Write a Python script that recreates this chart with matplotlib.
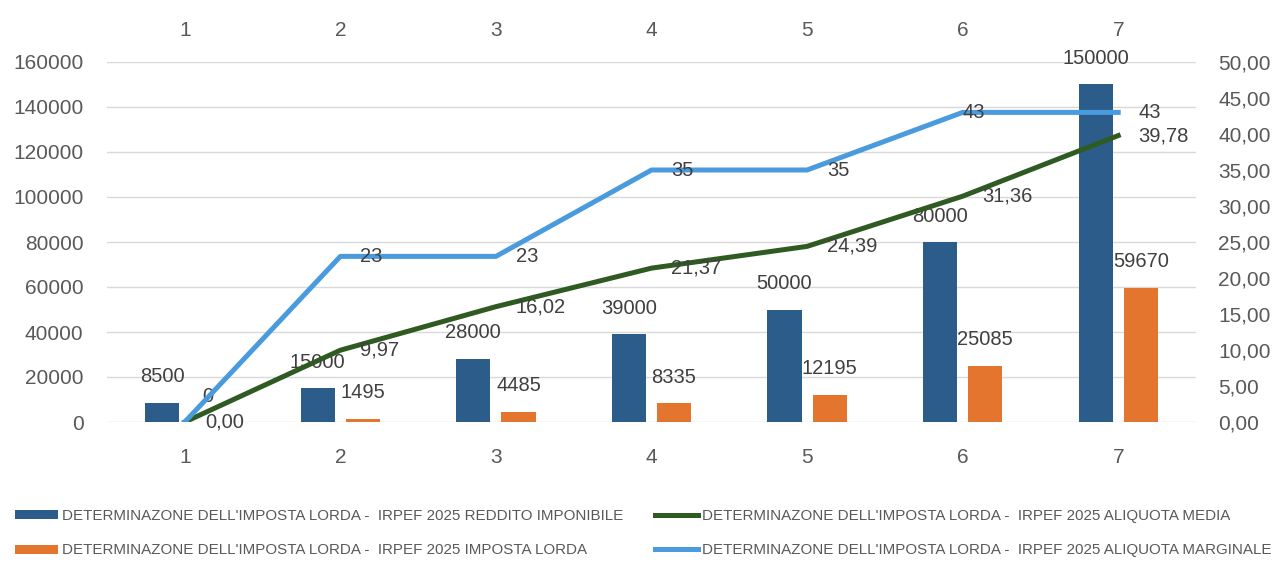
import numpy as np
import matplotlib.pyplot as plt
from matplotlib.ticker import FuncFormatter

categorie  = ['1', '2', '3', '4', '5', '6', '7']
reddito    = [8500, 15000, 28000, 39000, 50000, 80000, 150000]
imposta    = [0, 1495, 4485, 8335, 12195, 25085, 59670]
aliq_media = [0.00, 9.97, 16.02, 21.37, 24.39, 31.36, 39.78]
aliq_marg  = [0, 23, 23, 35, 35, 43, 43]

pref = "DETERMINAZONE DELL'IMPOSTA LORDA -  IRPEF 2025 "
nomi = [pref + 'REDDITO IMPONIBILE', pref + 'IMPOSTA LORDA',
        pref + 'ALIQUOTA MEDIA', pref + 'ALIQUOTA MARGINALE']

c_blu, c_ara = '#2B5C8A', '#E4752F'
c_verde, c_azz = '#2F5A22', '#4A9BDD'
grigio = '#595959'

plt.rcParams['font.family'] = ['Liberation Sans', 'DejaVu Sans']

x = np.arange(len(categorie))
w = 0.22

fig = plt.figure(figsize=(12.8, 5.63), dpi=100)
ax = fig.add_axes([107/1280, 1-422/563, 1089/1280, 360/563])

b1 = ax.bar(x - 0.145, reddito, w, color=c_blu, zorder=2)
b2 = ax.bar(x + 0.145, imposta, w, color=c_ara, zorder=2)
for bars, vals in ((b1, reddito), (b2, imposta)):
    for r, v in zip(bars, vals):
        ax.annotate(str(v), (r.get_x() + r.get_width()/2, v), xytext=(0, 26),
                    textcoords='offset pixels', ha='center', va='center',
                    fontsize=14.5, color='#404040', zorder=3)

ax.set_xlim(-0.5, 6.5)
ax.set_ylim(0, 160000)
ax.set_yticks(np.arange(0, 160001, 20000))
ax.set_xticks(x, categorie)
ax.grid(axis='y', color='#D9D9D9', lw=1, zorder=0)
ax.tick_params(length=0, labelsize=15, colors=grigio)
ax.tick_params(axis='y', pad=17)
ax.tick_params(axis='x', pad=19)
for s in ax.spines.values():
    s.set_visible(False)

top = ax.secondary_xaxis('top')
top.set_xticks(x, categorie)
top.tick_params(length=0, labelsize=15, colors=grigio, pad=16)
top.spines['top'].set_visible(False)

ax2 = ax.twinx()
l1, = ax2.plot(x, aliq_media, color=c_verde, lw=3.6, solid_joinstyle='round', zorder=3)
l2, = ax2.plot(x, aliq_marg, color=c_azz, lw=3.6, solid_joinstyle='round', zorder=3)
ax2.set_ylim(0, 50)
ax2.set_yticks(np.arange(0, 50.1, 5))
ax2.yaxis.set_major_formatter(FuncFormatter(lambda v, p: f'{v:.2f}'.replace('.', ',')))
ax2.tick_params(length=0, labelsize=15, colors=grigio, pad=16)
for s in ax2.spines.values():
    s.set_visible(False)

# etichette delle linee, a destra del punto
for i, v in enumerate(aliq_media):
    ax2.annotate(f'{v:.2f}'.replace('.', ','), (x[i], v), xytext=(20, 0),
                 textcoords='offset pixels', ha='left', va='center',
                 fontsize=14.5, color='#404040')
# la prima etichetta (0) resta nascosta sotto "0,00" nel grafico originale
dx_marg = [None, 20, 20, 20, 20, 0, 20]
for i, v in enumerate(aliq_marg):
    if dx_marg[i] is None:
        continue
    ax2.annotate(str(v), (x[i], v), xytext=(dx_marg[i], 0),
                 textcoords='offset pixels', ha='left', va='center',
                 fontsize=14.5, color='#404040')

leg_kw = dict(loc='upper left', frameon=False, borderpad=0, borderaxespad=0,
              handlelength=2.85, handleheight=0.55, handletextpad=0.25,
              labelspacing=1.35, labelcolor=grigio,
              prop={'family': 'Liberation Sans', 'size': 10.9})
fig.legend([b1, b2], nomi[:2], bbox_to_anchor=(15/1280, 1-509/563), **leg_kw)
fig.legend([l1, l2], nomi[2:], bbox_to_anchor=(655/1280, 1-509/563), **leg_kw)

fig.savefig('out.png', dpi=100)
